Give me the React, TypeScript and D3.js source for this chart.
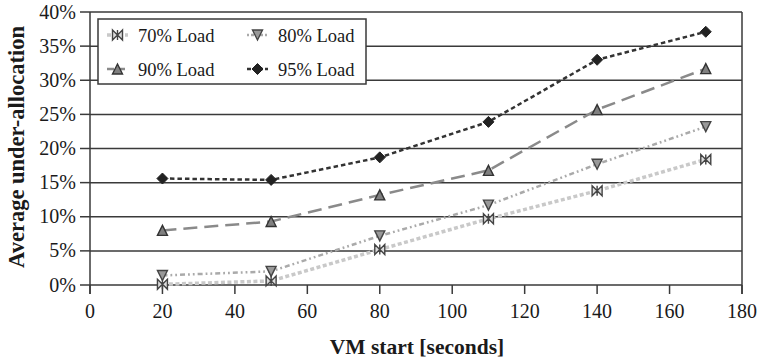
import React from "react";
import * as d3 from "d3";

const xValues = [20, 50, 80, 110, 140, 170];
const load70 = [0.1, 0.6, 5.2, 9.7, 13.8, 18.4];
const load80 = [1.4, 2.0, 7.2, 11.7, 17.7, 23.2];
const load90 = [8.0, 9.3, 13.2, 16.8, 25.7, 31.7];
const load95 = [15.6, 15.4, 18.7, 23.9, 33.0, 37.1];
const seriesNames = ["70% Load", "80% Load", "90% Load", "95% Load"];
const xTicks = [0, 20, 40, 60, 80, 100, 120, 140, 160, 180];
const yTicks = [0, 5, 10, 15, 20, 25, 30, 35, 40];

const W = 762, H = 362;
const left = 90, right = 742, top = 12, bottom = 285;
const FONT = "'Liberation Serif', 'Times New Roman', serif";

type Style = { stroke: string; width: number; dash: string; marker: string; fill: string; mstroke: string };
const styles: Style[] = [
  { stroke: "#c9c9c9", width: 3.5, dash: "4 2.5", marker: "bowtie", fill: "#dcdcdc", mstroke: "#444" },
  { stroke: "#aaaaaa", width: 2.5, dash: "5 3 1.8 3 1.8 3", marker: "down", fill: "#999", mstroke: "#444" },
  { stroke: "#8a8a8a", width: 2.5, dash: "14 7", marker: "up", fill: "#808080", mstroke: "#333" },
  { stroke: "#333333", width: 2.5, dash: "4.5 3", marker: "diamond", fill: "#222", mstroke: "#222" },
];

function Marker({ type, x, y, fill, stroke }: { type: string; x: number; y: number; fill: string; stroke: string }) {
  const s = 5;
  if (type === "bowtie") {
    return (
      <path d={`M${x - s},${y - s}L${x},${y}L${x - s},${y + s}Z M${x + s},${y - s}L${x},${y}L${x + s},${y + s}Z M${x},${y - s}L${x},${y + s}`}
        fill={fill} stroke={stroke} strokeWidth={1.4} />
    );
  }
  if (type === "down") {
    return <path d={`M${x - s},${y - s}L${x + s},${y - s}L${x},${y + s}Z`} fill={fill} stroke={stroke} strokeWidth={1.4} />;
  }
  if (type === "up") {
    return <path d={`M${x - s},${y + s}L${x + s},${y + s}L${x},${y - s}Z`} fill={fill} stroke={stroke} strokeWidth={1.4} />;
  }
  return <path d={`M${x},${y - 5.5}L${x + 5.5},${y}L${x},${y + 5.5}L${x - 5.5},${y}Z`} fill={fill} stroke={stroke} strokeWidth={1} />;
}

export default function App() {
  const x = d3.scaleLinear().domain([0, 180]).range([left, right]);
  const y = d3.scaleLinear().domain([0, 40]).range([bottom, top]);
  const data = [load70, load80, load90, load95];
  const line = d3.line<number>().x((_, i) => x(xValues[i])).y((d) => y(d));

  const legendItems = [
    { idx: 0, lx: 107, ty: 35 },
    { idx: 1, lx: 247, ty: 35 },
    { idx: 2, lx: 107, ty: 69 },
    { idx: 3, lx: 247, ty: 69 },
  ];

  return (
    <svg width={W} height={H} style={{ position: "absolute", left: 0, top: 0, background: "#fff" }} fontFamily={FONT}>
      <rect x={0} y={0} width={W} height={H} fill="#fff" />
      {yTicks.map((t) => (
        <g key={t}>
          <line x1={left} x2={right} y1={y(t)} y2={y(t)} stroke="#3a3a3a" strokeWidth={1.5} />
          <line x1={left - 10} x2={left} y1={y(t)} y2={y(t)} stroke="#3a3a3a" strokeWidth={1.5} />
          <text x={left - 14} y={y(t) + 6.5} textAnchor="end" fontSize={20} fill="#1a1a1a">{`${t}%`}</text>
        </g>
      ))}
      <line x1={left} x2={left} y1={top} y2={bottom + 9} stroke="#3a3a3a" strokeWidth={1.5} />
      <line x1={right} x2={right} y1={top} y2={bottom + 9} stroke="#3a3a3a" strokeWidth={1.5} />
      {xTicks.map((t) => (
        <g key={t}>
          <line x1={x(t)} x2={x(t)} y1={bottom} y2={bottom + 9} stroke="#3a3a3a" strokeWidth={1.5} />
          <text x={x(t)} y={bottom + 33} textAnchor="middle" fontSize={20} fill="#1a1a1a">{t}</text>
        </g>
      ))}
      {data.map((arr, si) => (
        <g key={si}>
          <path d={line(arr) || ""} fill="none" stroke={styles[si].stroke} strokeWidth={styles[si].width} strokeDasharray={styles[si].dash} />
          {arr.map((v, i) => (
            <Marker key={i} type={styles[si].marker} x={x(xValues[i])} y={y(v)} fill={styles[si].fill} stroke={styles[si].mstroke} />
          ))}
        </g>
      ))}
      <rect x={98} y={19} width={268} height={65} fill="#fff" stroke="#3a3a3a" strokeWidth={1.5} />
      {legendItems.map((it) => {
        const st = styles[it.idx];
        return (
          <g key={it.idx}>
            <line x1={it.lx} x2={it.lx + 21} y1={it.ty} y2={it.ty} stroke={st.stroke} strokeWidth={st.width} strokeDasharray={it.idx === 1 ? "2 2 3 2" : it.idx === 2 ? "7 4" : "4 2"} />
            <Marker type={st.marker} x={it.lx + 10.5} y={it.ty} fill={st.fill} stroke={st.mstroke} />
            <text x={it.lx + 31} y={it.ty + 6.5} fontSize={18.5} fill="#1a1a1a">{seriesNames[it.idx]}</text>
          </g>
        );
      })}
      <text x={417} y={354} textAnchor="middle" fontSize={21.5} fontWeight="bold" fill="#1a1a1a">VM start [seconds]</text>
      <text transform={`translate(24,147) rotate(-90)`} textAnchor="middle" fontSize={22.5} fontWeight="bold" fill="#1a1a1a">Average under-allocation</text>
    </svg>
  );
}
